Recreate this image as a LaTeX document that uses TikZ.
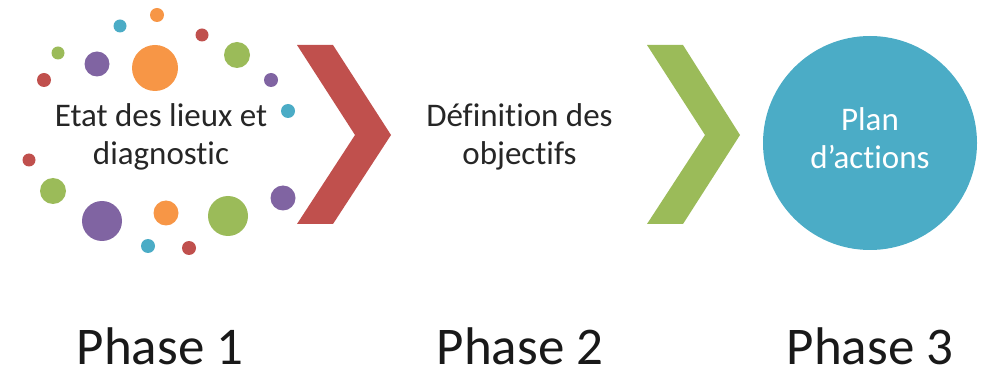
\documentclass[tikz,border=0pt]{standalone}
\usepackage{fontspec}
\setmainfont{Carlito}[Ligatures=CommonOff]
\definecolor{ored}{HTML}{C0504D}
\definecolor{ogreen}{HTML}{9BBB59}
\definecolor{opurple}{HTML}{8064A2}
\definecolor{oorange}{HTML}{F79646}
\definecolor{ocyan}{HTML}{4BACC6}

\begin{document}
\begin{tikzpicture}[x=1pt,y=-1pt,
    steptext/.style={align=center,inner sep=0pt,text=black!85,font=\fontsize{33}{38}\selectfont},
    phaselabel/.style={anchor=base,inner sep=0pt,text=black!90,font=\fontsize{53}{60}\selectfont}]
    \useasboundingbox (0,0) rectangle (987,371);

    % Draw the dots around phase 1
    \foreach \px/\py/\r/\c in {157/15/7/oorange, 120/26/6.5/ocyan, 202/35/6.5/ored,
        58/53/6.5/ogreen, 97/64/12.5/opurple, 155/68/23/oorange, 237/55/13/ogreen,
        44/80/7/ored, 271/80/7/opurple, 288/111/7/ocyan, 29/160/6.5/ored,
        53/191/13/ogreen, 102/221/20/opurple, 166/213/12.5/oorange, 228/216/20/ogreen,
        283/198/12.5/opurple, 148/246/7/ocyan, 189/248/7/ored}
      \fill[fill=\c] (\px,\py) circle[radius=\r pt];

    \node[steptext] (etat) at (161,137) {Etat des lieux et\\diagnostic};

    % Draw the chevrons
    \fill[ored] (297,45) -- (333,45) -- (391,135) -- (333,224) -- (297,224) -- (355,135) -- cycle;
    \node[steptext] (objectifs) at (519.5,137) {Définition des\\objectifs};
    \fill[ogreen] (647,45) -- (683,45) -- (740,135) -- (683,224) -- (647,224) -- (705,135) -- cycle;

    % Draw the last phase
    \node[circle,fill=ocyan,minimum size=214pt,inner sep=0pt] (plan) at (870,143) {};
    \node[steptext,text=white] (plantext) at ([yshift=4.5pt]plan.center) {Plan\\d’actions};

    \node[phaselabel] (phase1) at (160,364) {Phase 1};
    \node[phaselabel] (phase2) at (520,364) {Phase 2};
    \node[phaselabel] (phase3) at (870,364) {Phase 3};

\end{tikzpicture}
\end{document}
